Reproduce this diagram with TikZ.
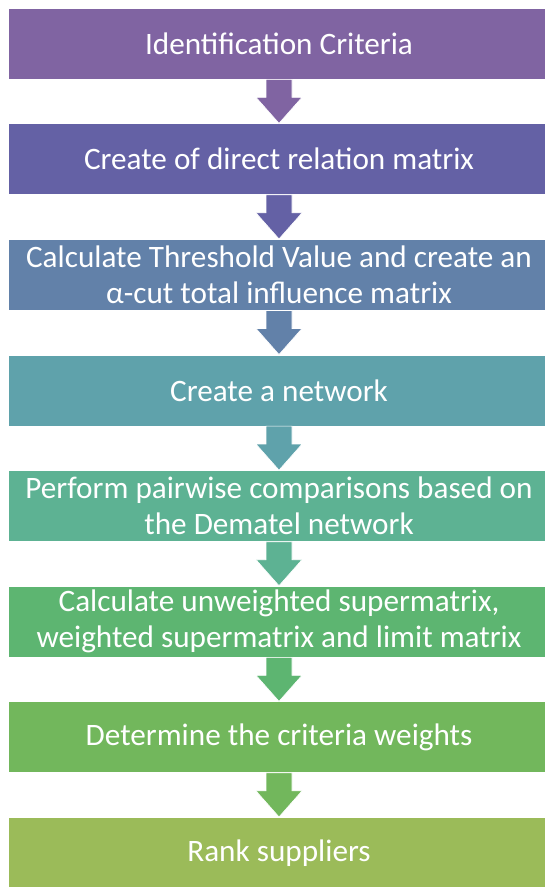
\documentclass[tikz,border=0pt]{standalone}
\usepackage{fontspec}
\setmainfont{Carlito}
\usetikzlibrary{calc}

\definecolor{c1}{RGB}{128,100,162}
\definecolor{c2}{RGB}{100,97,165}
\definecolor{c3}{RGB}{98,129,169}
\definecolor{c4}{RGB}{95,162,171}
\definecolor{c5}{RGB}{93,178,147}
\definecolor{c6}{RGB}{93,181,113}
\definecolor{c7}{RGB}{114,183,92}
\definecolor{c8}{RGB}{155,187,89}

\begin{document}
\begin{tikzpicture}[x=1pt, y=-1pt,
  etapa/.style={minimum width=542pt, minimum height=71pt, inner sep=0pt,
    text=white, align=center, font=\fontsize{31.2}{36.5}\selectfont,
    draw=white, line width=0.6pt},
  flecha/.style={draw=white, line width=0.6pt}]
  \useasboundingbox (0,0) rectangle (545,887);

  % Etapas
  \node[etapa, fill=c1] (e1) at (279, 43.5) {Identification Criteria};
  \node[etapa, fill=c2] (e2) at (279, 159.1) {Create of direct relation matrix};
  \node[etapa, fill=c3] (e3) at (279, 274.7) {Calculate Threshold Value and create an\\ α-cut total influence matrix};
  \node[etapa, fill=c4] (e4) at (279, 390.3) {Create a network};
  \node[etapa, fill=c5] (e5) at (279, 505.9) {Perform pairwise comparisons based on\\ the Dematel network};
  \node[etapa, fill=c6] (e6) at (279, 621.5) {Calculate unweighted supermatrix,\\ weighted supermatrix and limit matrix};
  \node[etapa, fill=c7] (e7) at (279, 737.1) {Determine the criteria weights};
  \node[etapa, fill=c8] (e8) at (279, 852.7) {Rank suppliers};

  % Flechas de bloque
  \foreach \a/\b/\c in {e1/e2/c1, e2/e3/c2, e3/e4/c3, e4/e5/c4, e5/e6/c5, e6/e7/c6, e7/e8/c7}
    \filldraw[flecha, fill=\c] ($(\a.south)+(-13,0)$) -- ++(0,18) -- ++(-10,0)
      -- (\b.north) -- ($(\a.south)+(23,18)$) -- ++(-10,0) -- ++(0,-18) -- cycle;
\end{tikzpicture}
\end{document}
